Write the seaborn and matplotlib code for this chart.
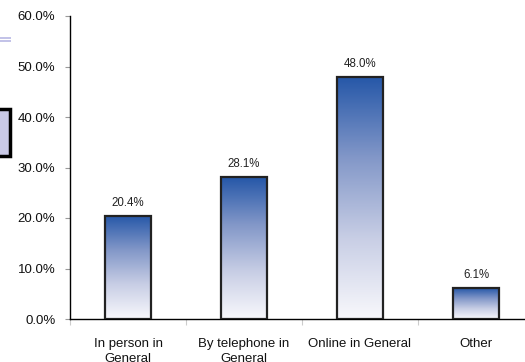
import numpy as np
import pandas as pd
import matplotlib
matplotlib.use("Agg")
import matplotlib.pyplot as plt
import seaborn as sns
from matplotlib.colors import LinearSegmentedColormap
from matplotlib.patches import Rectangle
from matplotlib.ticker import FixedLocator, PercentFormatter

categories = ["In person in\nGeneral", "By telephone in\nGeneral", "Online in General", "Other"]
values = [20.4, 28.1, 48.0, 6.1]
value_labels = ["20.4%", "28.1%", "48.0%", "6.1%"]
yticks = [0, 10, 20, 30, 40, 50, 60]

sns.set_theme(style="white")
plt.rcParams['font.family'] = ['Liberation Sans', 'DejaVu Sans']

fig = plt.figure(figsize=(5.25, 3.62), dpi=100)
ax = fig.add_axes([70/525, 1-319/362, 464/525, (319-16)/362])

df = pd.DataFrame({"cat": categories, "val": values})
sns.barplot(data=df, x="cat", y="val", ax=ax, width=0.4, color="white",
            edgecolor="#222222", linewidth=1.6)

cmap = LinearSegmentedColormap.from_list("g", ["#f8f8fc", "#c8cee5", "#8297c8", "#2557a8"])
grad = np.linspace(0, 1, 256).reshape(-1, 1)
for p, lab in zip(ax.patches, value_labels):
    x0, y0 = p.get_x(), p.get_y()
    w, h = p.get_width(), p.get_height()
    im = ax.imshow(grad, extent=[x0, x0 + w, y0, y0 + h], origin="lower",
                   cmap=cmap, aspect="auto", zorder=p.get_zorder() - 0.1)
    im.set_clip_path(p)
    p.set_facecolor("none")
    p.set_zorder(3)
    ax.annotate(lab, (x0 + w/2, y0 + h), xytext=(0, 5), textcoords="offset points",
                ha="center", va="bottom", fontsize=8.3, color="#222222")

ax.set_xlim(-0.5, 3.5)
ax.set_ylim(0, 60)
ax.set_yticks(yticks)
ax.yaxis.set_major_formatter(PercentFormatter(decimals=1))
ax.set_xlabel("")
ax.set_ylabel("")
ax.tick_params(axis="y", labelsize=9.5, length=3.6, width=0.8, color="#999999",
               direction="out", left=True, pad=7, labelcolor="#111111")
ax.tick_params(axis="x", which="major", length=0, labelsize=9.5, pad=14, labelcolor="#111111")
ax.xaxis.set_minor_locator(FixedLocator([-0.5, 0.5, 1.5, 2.5]))
ax.tick_params(axis="x", which="minor", length=4, width=0.8, color="#cccccc",
               direction="out", bottom=True)
for lab in ax.get_xticklabels():
    lab.set_linespacing(1.3)

for s in ["top", "right"]:
    ax.spines[s].set_visible(False)
for s in ["left", "bottom"]:
    ax.spines[s].set_color("black")
    ax.spines[s].set_linewidth(1.0)

# slide decoration fragments at left edge
fig.patches.append(Rectangle((0, 1-42/362), 11/525, 1.5/362, transform=fig.transFigure,
                             facecolor="#c3c3e8", edgecolor="none"))
fig.patches.append(Rectangle((0, 1-39/362), 11/525, 1.5/362, transform=fig.transFigure,
                             facecolor="#c3c3e8", edgecolor="none"))
fig.patches.append(Rectangle((-3/525, 1-156/362), 13/525, 47/362, transform=fig.transFigure,
                             facecolor="#c9c9e6", edgecolor="black", linewidth=2.5))

fig.savefig("out.png", dpi=100, facecolor="white")
